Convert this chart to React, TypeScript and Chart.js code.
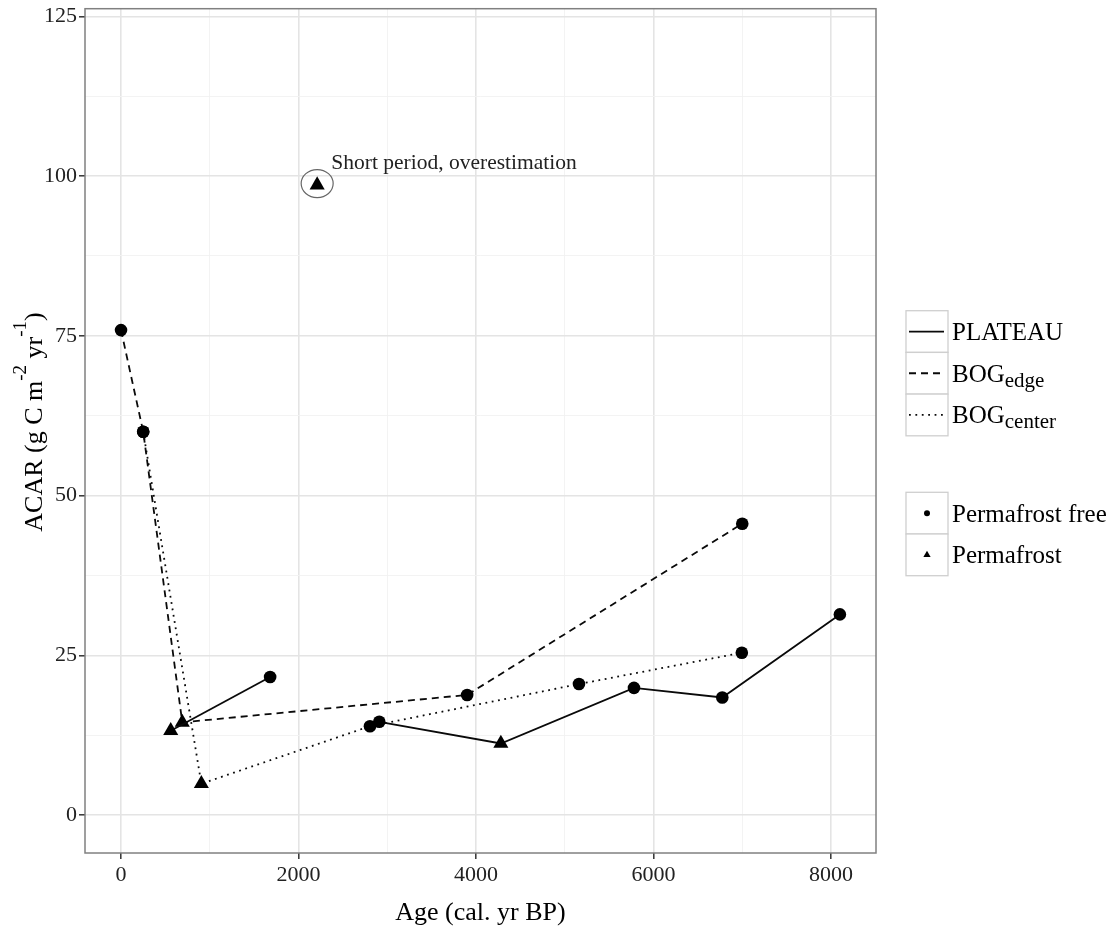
import React, { useEffect, useRef } from 'react';
import { Chart, registerables } from 'chart.js';

Chart.register(...registerables);

// ---------- data ----------
const xMajorTicks = [0, 2000, 4000, 6000, 8000];
const xMinorTicks = [1000, 3000, 5000, 7000];
const yMajorTicks = [0, 25, 50, 75, 100, 125];
const yMinorTicks = [12.5, 37.5, 62.5, 87.5, 112.5];

const plateauCoreAAges = [560, 1680];
const plateauCoreAValues = [13.2, 21.6];
const plateauCoreAPermafrost = [true, false];

const plateauCoreBAges = [2910, 4280, 5780, 6775, 8100];
const plateauCoreBValues = [14.6, 11.2, 19.9, 18.4, 31.4];
const plateauCoreBPermafrost = [false, true, false, false, false];

const bogEdgeAges = [0, 250, 690, 3900, 7000];
const bogEdgeValues = [75.9, 60.0, 14.5, 18.8, 45.6];
const bogEdgePermafrost = [false, false, true, false, false];

const bogCenterAges = [250, 905, 2805, 5160, 6995];
const bogCenterValues = [60.0, 4.9, 13.9, 20.5, 25.4];
const bogCenterPermafrost = [false, true, false, false, false];

const outlierAges = [2210];
const outlierValues = [98.6];
const outlierPermafrost = [true];

const annotationText = 'Short period, overestimation';
const annotationAge = 2370;
const annotationValue = 102;

const xTitle = 'Age (cal. yr BP)';
const lineLegendLabels = [
  { main: 'PLATEAU', sub: '' },
  { main: 'BOG', sub: 'edge' },
  { main: 'BOG', sub: 'center' },
];
const shapeLegendLabels = ['Permafrost free', 'Permafrost'];

// ---------- styles ----------
const FONT = '"Liberation Serif", "DejaVu Serif", serif';
const LINE_COLOR = '#0a0a0a';
const LINE_WIDTH = 1.8;
const DASHED = [7, 5];
const DOTTED = [1.8, 4.6];

const majorX = new Set(xMajorTicks);
const majorY = new Set(yMajorTicks);

function makeDataset(label: string, ages: number[], values: number[], pf: boolean[], dash: number[], showLine: boolean) {
  return {
    label,
    data: ages.map((x, i) => ({ x, y: values[i] })),
    showLine,
    borderColor: LINE_COLOR,
    borderWidth: LINE_WIDTH,
    borderDash: dash,
    borderCapStyle: 'butt',
    pointStyle: pf.map((p) => (p ? 'triangle' : 'circle')),
    pointRadius: pf.map((p) => (p ? 8.7 : 6.3)),
    pointHoverRadius: pf.map((p) => (p ? 8.7 : 6.3)),
    pointBackgroundColor: '#000',
    pointBorderColor: '#000',
    pointBorderWidth: 0,
    tension: 0,
  };
}

type Part = { t: string; s: number; dy?: number };

function richWidth(ctx: CanvasRenderingContext2D, parts: Part[]) {
  let w = 0;
  for (const p of parts) {
    ctx.font = `${p.s}px ${FONT}`;
    w += ctx.measureText(p.t).width;
  }
  return w;
}

function drawRich(ctx: CanvasRenderingContext2D, parts: Part[], x: number, y: number) {
  let cx = x;
  ctx.textBaseline = 'alphabetic';
  ctx.textAlign = 'left';
  for (const p of parts) {
    ctx.font = `${p.s}px ${FONT}`;
    ctx.fillText(p.t, cx, y + (p.dy || 0));
    cx += ctx.measureText(p.t).width;
  }
}

const overlayPlugin = {
  id: 'overlay',
  afterDraw(chart: any) {
    const ctx: CanvasRenderingContext2D = chart.ctx;
    const area = chart.chartArea;
    const xs = chart.scales.x;
    const ys = chart.scales.y;
    ctx.save();

    // panel border
    ctx.strokeStyle = '#808080';
    ctx.lineWidth = 1.5;
    ctx.setLineDash([]);
    ctx.strokeRect(area.left, area.top, area.right - area.left, area.bottom - area.top);

    // annotation ellipse around outlier
    const ox = xs.getPixelForValue(outlierAges[0]);
    const oy = ys.getPixelForValue(outlierValues[0]);
    ctx.strokeStyle = '#666';
    ctx.lineWidth = 1.2;
    ctx.beginPath();
    ctx.ellipse(ox, oy - 1.5, 16, 14, 0, 0, Math.PI * 2);
    ctx.stroke();

    // annotation text
    ctx.fillStyle = '#222';
    ctx.font = `21.5px ${FONT}`;
    ctx.textAlign = 'left';
    ctx.textBaseline = 'middle';
    ctx.fillText(annotationText, xs.getPixelForValue(annotationAge), ys.getPixelForValue(annotationValue));

    // x title
    ctx.fillStyle = '#000';
    ctx.font = `26px ${FONT}`;
    ctx.textAlign = 'center';
    ctx.textBaseline = 'alphabetic';
    ctx.fillText(xTitle, (area.left + area.right) / 2, 920);

    // y title (rotated, with superscripts)
    const yParts: Part[] = [
      { t: 'ACAR (g C m', s: 26 },
      { t: '-2', s: 19, dy: -16 },
      { t: ' yr', s: 26 },
      { t: '-1', s: 19, dy: -16 },
      { t: ')', s: 26 },
    ];
    ctx.save();
    ctx.translate(42, 422);
    ctx.rotate(-Math.PI / 2);
    ctx.fillStyle = '#000';
    const yw = richWidth(ctx, yParts);
    drawRich(ctx, yParts, -yw / 2, 0);
    ctx.restore();

    // legends
    const keyX = 906;
    const keyW = 42;
    const rowH = 41.7;
    const textX = 952;
    const top1 = 310.7;
    const dashes = [[], DASHED, DOTTED];
    lineLegendLabels.forEach((lab, i) => {
      const ry = top1 + i * rowH;
      const cy = ry + rowH / 2;
      ctx.fillStyle = '#fff';
      ctx.fillRect(keyX, ry, keyW, rowH);
      ctx.strokeStyle = '#cfcfcf';
      ctx.lineWidth = 1.3;
      ctx.setLineDash([]);
      ctx.strokeRect(keyX, ry, keyW, rowH);
      ctx.strokeStyle = LINE_COLOR;
      ctx.lineWidth = LINE_WIDTH;
      ctx.setLineDash(dashes[i] as number[]);
      ctx.beginPath();
      ctx.moveTo(keyX + 3, cy);
      ctx.lineTo(keyX + keyW - 4, cy);
      ctx.stroke();
      ctx.setLineDash([]);
      ctx.fillStyle = '#000';
      const parts: Part[] = [{ t: lab.main, s: 25 }];
      if (lab.sub) parts.push({ t: lab.sub, s: 21, dy: 5 });
      drawRich(ctx, parts, textX, cy + 8.5);
    });

    const top2 = 492.3;
    shapeLegendLabels.forEach((lab, i) => {
      const ry = top2 + i * rowH;
      const cy = ry + rowH / 2;
      ctx.fillStyle = '#fff';
      ctx.fillRect(keyX, ry, keyW, rowH);
      ctx.strokeStyle = '#cfcfcf';
      ctx.lineWidth = 1.3;
      ctx.strokeRect(keyX, ry, keyW, rowH);
      ctx.fillStyle = '#000';
      const mx = keyX + keyW / 2;
      ctx.beginPath();
      if (i === 0) {
        ctx.arc(mx, cy, 3, 0, Math.PI * 2);
      } else {
        const r = 4.2;
        ctx.moveTo(mx, cy - r);
        ctx.lineTo(mx + r * Math.sin((2 * Math.PI) / 3), cy - r * Math.cos((2 * Math.PI) / 3));
        ctx.lineTo(mx + r * Math.sin((4 * Math.PI) / 3), cy - r * Math.cos((4 * Math.PI) / 3));
        ctx.closePath();
      }
      ctx.fill();
      drawRich(ctx, [{ t: lab, s: 25 }], textX, cy + 8.5);
    });

    ctx.restore();
  },
};

export default function App() {
  const ref = useRef<HTMLCanvasElement | null>(null);

  useEffect(() => {
    if (!ref.current) return;
    const allX = [...xMajorTicks, ...xMinorTicks].sort((a, b) => a - b);
    const allY = [...yMajorTicks, ...yMinorTicks].sort((a, b) => a - b);

    const chart = new Chart(ref.current, {
      type: 'scatter',
      data: {
        datasets: [
          makeDataset('PLATEAU a', plateauCoreAAges, plateauCoreAValues, plateauCoreAPermafrost, [], true),
          makeDataset('PLATEAU b', plateauCoreBAges, plateauCoreBValues, plateauCoreBPermafrost, [], true),
          makeDataset('BOG edge', bogEdgeAges, bogEdgeValues, bogEdgePermafrost, DASHED, true),
          makeDataset('BOG center', bogCenterAges, bogCenterValues, bogCenterPermafrost, DOTTED, true),
          makeDataset('Outlier', outlierAges, outlierValues, outlierPermafrost, [], false),
        ] as any,
      },
      options: {
        animation: false,
        responsive: false,
        maintainAspectRatio: false,
        events: [],
        layout: { padding: { left: 0, right: 1112 - 876, top: 7.5, bottom: 0 } },
        plugins: { legend: { display: false }, tooltip: { enabled: false }, title: { display: false } },
        scales: {
          x: {
            type: 'linear',
            min: -406,
            max: 8507,
            afterBuildTicks: (s: any) => {
              s.ticks = allX.map((v) => ({ value: v }));
            },
            afterFit: (s: any) => {
              s.height = 930 - 853;
              s.paddingLeft = 0;
              s.paddingRight = 0;
            },
            border: { display: false },
            grid: {
              color: (c: any) => (c.tick && majorX.has(c.tick.value) ? '#e4e4e4' : '#f2f2f2'),
              lineWidth: (c: any) => (c.tick && majorX.has(c.tick.value) ? 1.6 : 0.9),
              tickColor: (c: any) => (c.tick && majorX.has(c.tick.value) ? '#333' : 'rgba(0,0,0,0)'),
              tickLength: 6,
              tickWidth: 1.5,
              drawTicks: true,
            },
            ticks: {
              autoSkip: false,
              maxRotation: 0,
              padding: 3,
              color: '#222',
              font: { family: FONT, size: 22 },
              callback: (v: any) => (majorX.has(Number(v)) ? String(v) : ''),
            },
          },
          y: {
            type: 'linear',
            min: -5.94,
            max: 126.2,
            afterBuildTicks: (s: any) => {
              s.ticks = allY.map((v) => ({ value: v }));
            },
            afterFit: (s: any) => {
              s.width = 85;
              s.paddingTop = 0;
              s.paddingBottom = 0;
            },
            border: { display: false },
            grid: {
              color: (c: any) => (c.tick && majorY.has(c.tick.value) ? '#e4e4e4' : '#f2f2f2'),
              lineWidth: (c: any) => (c.tick && majorY.has(c.tick.value) ? 1.6 : 0.9),
              tickColor: (c: any) => (c.tick && majorY.has(c.tick.value) ? '#333' : 'rgba(0,0,0,0)'),
              tickLength: 6,
              tickWidth: 1.5,
              drawTicks: true,
            },
            ticks: {
              autoSkip: false,
              padding: 2,
              color: '#222',
              font: { family: FONT, size: 22 },
              callback: (v: any) => (majorY.has(Number(v)) ? String(v) : ''),
            },
          },
        },
      } as any,
      plugins: [overlayPlugin],
    });
    return () => chart.destroy();
  }, []);

  return (
    <div style={{ position: 'absolute', left: 0, top: 0, width: 1112, height: 930, background: '#fff' }}>
      <canvas ref={ref} width={1112} height={930} style={{ display: 'block', width: 1112, height: 930 }} />
    </div>
  );
}
